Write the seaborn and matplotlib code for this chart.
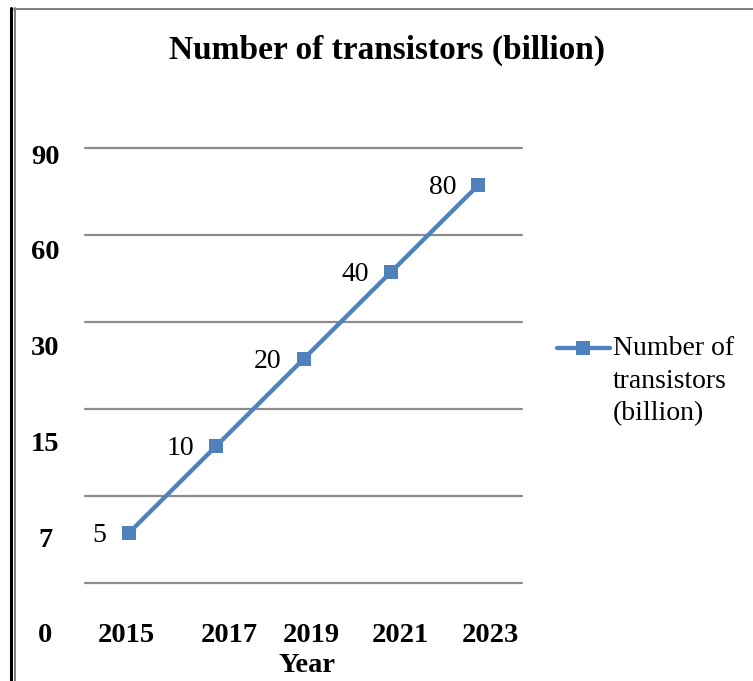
import numpy as np
import pandas as pd
import matplotlib
matplotlib.use("Agg")
import matplotlib.pyplot as plt
import matplotlib.transforms as mtransforms
from matplotlib.lines import Line2D
import seaborn as sns

# ---- data ----
years = ["2015", "2017", "2019", "2021", "2023"]
transistors = [5, 10, 20, 40, 80]
y_tick_labels = ["90", "60", "30", "15", "7", "0"]
series_name = "Number of transistors (billion)"
legend_label = "Number of\ntransistors\n(billion)"
x_title = "Year"

sns.set_style("white")
plt.rcParams["font.family"] = ["Liberation Serif", "DejaVu Serif"]
plt.rcParams["text.color"] = "black"
plt.rcParams["xtick.color"] = "black"
plt.rcParams["ytick.color"] = "black"

W, H = 753, 681
fig = plt.figure(figsize=(W / 100, H / 100), dpi=100)

def fx(px):
    return px / W

def fy(py):
    return 1 - py / H

ax = fig.add_axes([fx(85), fy(583), fx(522) - fx(85), (583 - 148) / H])

df = pd.DataFrame({"idx": np.arange(len(years)), "value": transistors})
color = "#4F81BD"
sns.lineplot(data=df, x="idx", y="value", ax=ax, color=color, linewidth=3.1,
             marker="s", markersize=10, markeredgewidth=0, label=series_name,
             zorder=3)

ax.set_yscale("log", base=2)
g0 = 3.36
ax.set_ylim(g0, g0 * 32)
ax.set_xlim(-0.5, 4.5)
grid_pos = [g0 * 2 ** k for k in range(6)]
ax.set_yticks(grid_pos, labels=[""] * len(grid_pos))
ax.yaxis.set_minor_locator(matplotlib.ticker.NullLocator())
ax.grid(axis="y", color="#8c8c8c", linewidth=1.6)
ax.grid(axis="x", visible=False)
for gl in ax.get_ygridlines():
    gl.set_clip_on(False)
for s in ax.spines.values():
    s.set_visible(False)
ax.tick_params(axis="both", length=0)

# x tick labels (positions as in the original rendering)
x_offsets = [-0.03, 0.15, 0.09, 0.11, 0.14]
ax.set_xticks(np.arange(len(years)) + np.array(x_offsets), labels=years)
ax.tick_params(axis="x", pad=29, labelsize=20.5, labelcolor="black")
for t in ax.get_xticklabels():
    t.set_fontweight("bold")
ax.set_xlabel("")
ax.set_ylabel("")

# y labels (drawn at the original positions)
blend = mtransforms.blended_transform_factory(fig.transFigure, ax.transAxes)
for i, lab in enumerate(y_tick_labels):
    ypx = 157 + i * 95.8
    ax.text(fx(45), (583 - ypx) / 435, lab, transform=blend, ha="center",
            va="center", fontsize=20.5, fontweight="bold", clip_on=False)

# data labels
for i, v in enumerate(transistors):
    ax.annotate(str(v), xy=(i, v), xytext=(-16, -2), textcoords="offset points",
                ha="right", va="center", fontsize=20)

# title and axis title
fig.text(fx(387), fy(50), series_name, ha="center", va="center",
         fontsize=24, fontweight="bold")
fig.text(fx(307), fy(666), x_title, ha="center", va="center",
         fontsize=20.5, fontweight="bold")

# legend
ax.get_legend().remove()
handle = Line2D([], [], color=color, linewidth=3.1, marker="s", markersize=10,
                markeredgewidth=0)
leg = ax.legend(handles=[handle], labels=[legend_label], loc="upper left",
                bbox_to_anchor=(fx(557), fy(336)), bbox_transform=fig.transFigure,
                frameon=False, fontsize=20, borderpad=0, borderaxespad=0,
                handlelength=1.9, handletextpad=0.12, labelspacing=0)
leg.get_texts()[0].set_linespacing(1.4)
lh = leg.legend_handles[0]
yd = np.asarray(lh.get_ydata(), dtype=float)
lh.set_ydata(yd + 23.5)

# page borders
fig.add_artist(Line2D([fx(10.5), fx(10.5)], [fy(8), 0], color="black",
                      linewidth=2.2, transform=fig.transFigure))
fig.add_artist(Line2D([fx(14.5), fx(14.5)], [fy(8), 0], color="#7f7f7f",
                      linewidth=1.4, transform=fig.transFigure))
fig.add_artist(Line2D([fx(14), 1], [fy(9), fy(9)], color="#7f7f7f",
                      linewidth=1.4, transform=fig.transFigure))

fig.savefig("out.png", dpi=100)
